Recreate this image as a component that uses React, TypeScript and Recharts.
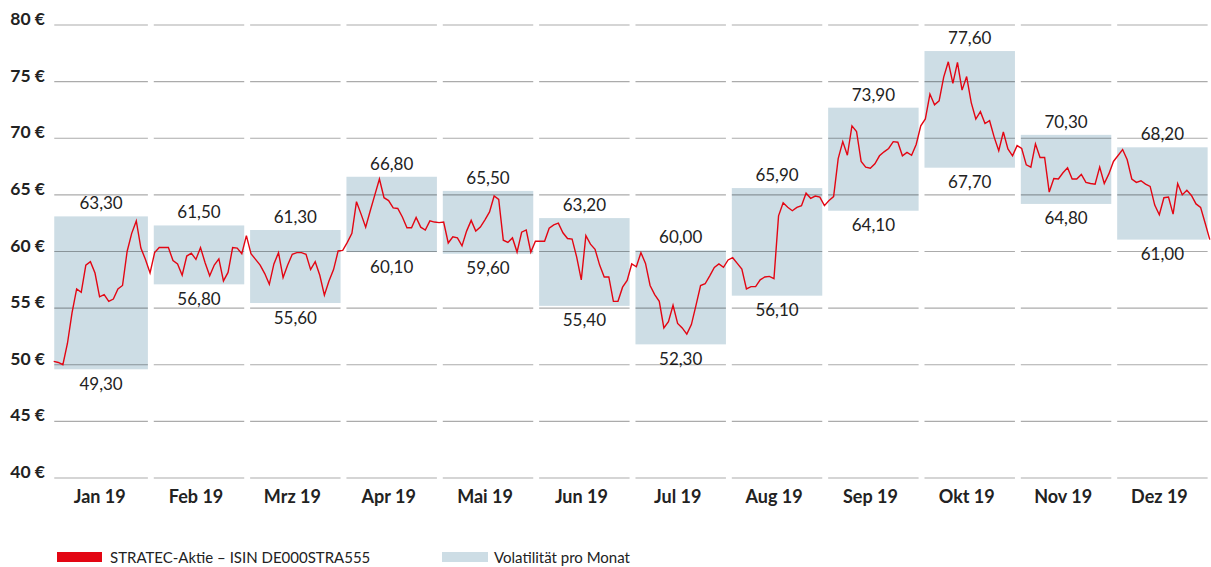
import { ComposedChart, Line, XAxis, YAxis, ReferenceArea, ReferenceLine } from 'recharts'

const months = ['Jan 19', 'Feb 19', 'Mrz 19', 'Apr 19', 'Mai 19', 'Jun 19', 'Jul 19', 'Aug 19', 'Sep 19', 'Okt 19', 'Nov 19', 'Dez 19']

// daily closing prices per month
const jan = [50.3, 50.2, 50.0, 51.9, 54.6, 56.7, 56.4, 58.8, 59.1, 58.1, 56.0, 56.2, 55.6, 55.8, 56.7, 57.0, 60.0, 61.6, 62.7, 60.3, 59.3, 58.1]
const feb = [59.9, 60.35, 60.35, 60.35, 59.2, 58.9, 57.9, 59.6, 59.85, 59.3, 60.35, 59.0, 57.85, 58.8, 59.35, 57.4, 58.15, 60.35, 60.3, 59.8, 61.4]
const mrz = [59.8, 59.3, 58.8, 58.05, 57.1, 58.9, 59.9, 57.7, 58.8, 59.75, 59.9, 59.9, 59.75, 58.4, 59.1, 57.9, 56.15, 57.4, 58.4, 60.05, 60.1]
const apr = [60.8, 61.6, 64.4, 63.3, 62.15, 63.6, 65.0, 66.4, 64.75, 64.5, 63.85, 63.8, 63.05, 62.1, 62.1, 63.0, 62.15, 61.9, 62.7, 62.6, 62.55]
const mai = [62.6, 60.75, 61.3, 61.2, 60.5, 61.8, 62.75, 61.8, 62.15, 62.8, 63.5, 64.9, 64.6, 61.0, 60.8, 61.2, 59.95, 61.7, 61.9, 59.95, 60.9]
const jun = [60.9, 60.9, 62.05, 62.35, 62.5, 61.65, 61.15, 61.1, 59.5, 57.5, 61.4, 60.65, 60.2, 58.8, 57.75, 57.75, 55.6, 55.6, 56.85, 57.45, 58.9]
const jul = [58.65, 59.9, 58.95, 57.0, 56.2, 55.6, 53.25, 53.8, 55.25, 53.65, 53.25, 52.7, 53.55, 55.25, 57.0, 57.15, 57.85, 58.6, 58.9, 58.6, 59.25]
const aug = [59.45, 58.95, 58.45, 56.7, 56.9, 56.9, 57.5, 57.75, 57.8, 57.6, 63.15, 64.3, 63.9, 63.6, 63.9, 64.05, 65.15, 64.7, 64.9, 64.8, 64.05]
const sep = [64.5, 64.85, 68.2, 69.7, 68.5, 71.1, 70.6, 67.95, 67.45, 67.35, 67.75, 68.45, 68.8, 69.1, 69.7, 69.65, 68.45, 68.75, 68.5, 69.45, 71.1]
const okt = [71.7, 73.9, 72.95, 73.3, 75.4, 76.75, 74.85, 76.7, 74.25, 75.45, 73.15, 71.7, 72.35, 71.3, 71.55, 70.1, 68.9, 70.55, 69.05, 68.45, 69.35]
const nov = [69.1, 67.65, 67.45, 69.5, 68.3, 68.3, 65.25, 66.45, 66.4, 66.95, 67.4, 66.4, 66.4, 66.8, 66.1, 66.0, 65.95, 67.45, 66.0, 66.85, 67.95]
const dez = [69.0, 68.1, 66.4, 66.1, 66.25, 65.95, 65.75, 64.1, 63.25, 64.75, 64.8, 63.3, 66.0, 65.0, 65.4, 64.95, 64.2, 63.9, 62.5, 61.05]

// monthly volatility boxes (as drawn) and their printed labels
const boxHigh = [63.1, 62.3, 61.9, 66.6, 65.35, 62.95, 60.1, 65.6, 72.7, 77.7, 70.3, 69.2]
const boxLow = [49.6, 57.1, 55.45, 59.95, 59.8, 55.2, 51.8, 56.1, 63.6, 67.4, 64.2, 61.05]
const highLabels = ['63,30', '61,50', '61,30', '66,80', '65,50', '63,20', '60,00', '65,90', '73,90', '77,60', '70,30', '68,20']
const lowLabels = ['49,30', '56,80', '55,60', '60,10', '59,60', '55,40', '52,30', '56,10', '64,10', '67,70', '64,80', '61,00']

const yTicks = [40, 45, 50, 55, 60, 65, 70, 75, 80]

const RED = '#e30613'
const BOX = '#cddde5'
const FONT = 'Lato, "Open Sans", sans-serif'

const prices = [jan, feb, mrz, apr, mai, jun, jul, aug, sep, okt, nov, dez]
const data = prices.flatMap((vals, m) =>
  vals.map((v, k) => ({ t: m + 0.015 + (k - (vals.length - 21)) / 21, price: v })),
)

const colStart = (i: number) => (i === 0 ? -0.027 : i + 0.006)
const colEnd = (i: number) => i + 0.945

const YTick = ({ x, y, payload }: any) => (
  <text x={x} y={y} textAnchor="end" fontFamily={FONT} fontWeight={700} fontSize={17.5} fill="#222">
    {payload.value} €
  </text>
)

const XTick = ({ x, y, payload }: any) => (
  <text x={x} y={y} textAnchor="middle" fontFamily={FONT} fontWeight={700} fontSize={18} fill="#222">
    {months[Math.round(payload.value - 0.445)]}
  </text>
)

const boxShape = (i: number) => (props: any) => {
  const { x, y, width, height } = props
  return (
    <g>
      <rect x={x} y={y} width={width} height={height} fill={BOX} />
      <text x={x + width / 2} y={y - 7} textAnchor="middle" fontFamily={FONT} fontSize={17} fill="#222">
        {highLabels[i]}
      </text>
      <text x={x + width / 2} y={y + height + 20.5} textAnchor="middle" fontFamily={FONT} fontSize={17} fill="#222">
        {lowLabels[i]}
      </text>
    </g>
  )
}

export default function App() {
  return (
    <div style={{ position: 'absolute', left: 0, top: 0, width: 1211, height: 567, background: '#fff' }}>
      <ComposedChart width={1211} height={567} data={data} margin={{ top: 25, right: 0, bottom: 59, left: 0 }}>
        <XAxis
          type="number"
          dataKey="t"
          domain={[-0.04, 11.98]}
          allowDataOverflow
          ticks={months.map((_, i) => i + 0.445)}
          interval={0}
          tick={<XTick />}
          tickLine={false}
          axisLine={false}
          tickSize={0}
          tickMargin={25}
          height={30}
        />
        <YAxis
          type="number"
          domain={[40, 80]}
          ticks={yTicks}
          interval={0}
          tick={<YTick />}
          tickLine={false}
          axisLine={false}
          tickSize={0}
          tickMargin={8}
          width={53}
        />
        {months.map((m, i) => (
          <ReferenceArea
            key={'box' + m}
            x1={colStart(i)}
            x2={colEnd(i)}
            y1={boxLow[i]}
            y2={boxHigh[i]}
            shape={boxShape(i)}
          />
        ))}
        {months.map((m, i) =>
          yTicks.map((v) => (
            <ReferenceLine
              key={'grid' + m + v}
              segment={[
                { x: colStart(i), y: v },
                { x: colEnd(i), y: v },
              ]}
              stroke="#000"
              strokeOpacity={0.33}
              strokeWidth={1.2}
            />
          )),
        )}
        <Line
          type="linear"
          dataKey="price"
          stroke={RED}
          strokeWidth={1.4}
          dot={false}
          isAnimationActive={false}
        />
      </ComposedChart>
      <div style={{ position: 'absolute', left: 57, top: 552, width: 45, height: 10, background: RED }} />
      <div style={{ position: 'absolute', left: 110, top: 547, fontFamily: FONT, fontSize: 15, color: '#222', lineHeight: '20px' }}>
        STRATEC-Aktie – ISIN DE000STRA555
      </div>
      <div style={{ position: 'absolute', left: 442, top: 552, width: 46, height: 10, background: BOX }} />
      <div style={{ position: 'absolute', left: 494, top: 547, fontFamily: FONT, fontSize: 15, color: '#222', lineHeight: '20px' }}>
        Volatilität pro Monat
      </div>
    </div>
  )
}
